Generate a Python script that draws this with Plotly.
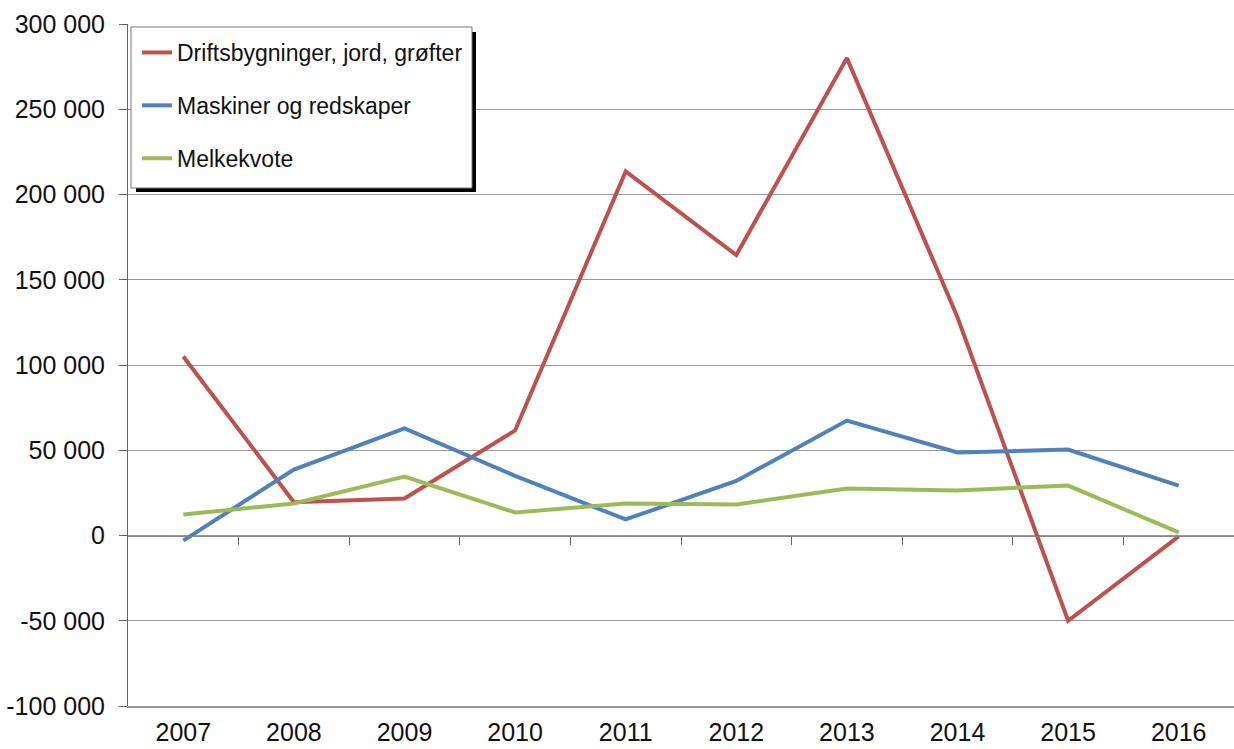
import plotly.graph_objects as go

years = [2007, 2008, 2009, 2010, 2011, 2012, 2013, 2014, 2015, 2016]
drift = [105000, 19500, 21700, 61600, 213500, 164500, 280000, 128000, -50000, -500]
maskiner = [-3000, 38700, 62800, 35000, 9400, 32000, 67400, 48700, 50400, 29300]
melk = [12300, 18800, 34600, 13500, 18800, 18200, 27600, 26400, 29300, 1800]
names = ["Driftsbygninger, jord, grøfter", "Maskiner og redskaper", "Melkekvote"]
colors = ["#C0504D", "#4F81BD", "#9BBB59"]
yticks = [-100000, -50000, 0, 50000, 100000, 150000, 200000, 250000, 300000]
yticktext = ["-100 000", "-50 000", "0", "50 000", "100 000", "150 000", "200 000", "250 000", "300 000"]
between = [y + 0.5 for y in years[:-1]]

# plot area in page pixels
PX0, PX1, PY0, PY1 = 128, 1234, 24, 706
def px(x):
    return (x - PX0) / (PX1 - PX0)
def py(y):
    return (PY1 - y) / (PY1 - PY0)

fig = go.Figure()
for i, (n, s) in enumerate(zip(names, [drift, maskiner, melk])):
    fig.add_trace(go.Scatter(x=years, y=s, name=n, mode="lines",
                             line=dict(color=colors[i], width=4),
                             legendgroup=str(i)))

FONT = "Liberation Sans, Arial, sans-serif"
fig.update_layout(
    width=1234, height=749,
    margin=dict(l=128, r=0, t=24, b=43),
    paper_bgcolor="white", plot_bgcolor="white",
    font=dict(family=FONT, color="#111", size=24),
    showlegend=True,
    legend=dict(x=px(137), y=py(31), xanchor="left", yanchor="top",
                bgcolor="rgba(0,0,0,0)", borderwidth=0,
                font=dict(size=23, family=FONT), tracegroupgap=20,
                itemwidth=30),
    xaxis=dict(range=[2006.5, 2016.5], tickvals=years, ticktext=[str(y) for y in years],
               showgrid=False, showline=True, linecolor="#999", linewidth=2,
               ticks="", tickfont=dict(size=25), zeroline=False,
               ticklabelstandoff=3, automargin=False),
    xaxis2=dict(range=[2006.5, 2016.5], overlaying="x", anchor="free", position=0.25,
                tickvals=between, ticks="outside", ticklen=8, tickcolor="#666",
                showticklabels=False, showgrid=False, showline=True, linecolor="#888",
                linewidth=1, zeroline=False, automargin=False),
    yaxis=dict(range=[-100000, 300000], tickvals=yticks, ticktext=yticktext,
               showgrid=True, gridcolor="#999", gridwidth=1,
               showline=True, linecolor="#666", linewidth=1,
               ticks="outside", ticklen=8, tickcolor="#666",
               zeroline=False, tickfont=dict(size=25), ticklabelstandoff=9,
               automargin=False),
    shapes=[
        dict(type="rect", xref="paper", yref="paper", layer="above",
             x0=px(136), x1=px(476), y0=py(192), y1=py(32),
             fillcolor="black", line=dict(width=0)),
        dict(type="rect", xref="paper", yref="paper", layer="above",
             x0=px(131), x1=px(472), y0=py(188), y1=py(27),
             fillcolor="white", line=dict(color="#777", width=1)),
    ],
)
fig.add_trace(go.Scatter(x=[2006.5], y=[0], xaxis="x2", showlegend=False,
                         mode="markers", marker=dict(opacity=0), hoverinfo="skip"))
fig.write_html("out.html", config={"displayModeBar": False},
               post_script="document.body.style.margin='0';"
                           "document.documentElement.style.overflow='hidden';")
